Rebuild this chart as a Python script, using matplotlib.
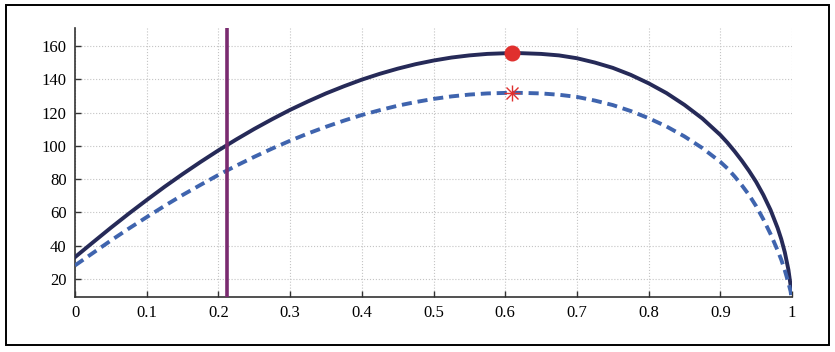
import matplotlib.pyplot as plt
import numpy as np
from matplotlib.patches import Rectangle

# values
x_pts = [0, 0.025, 0.05, 0.075, 0.1, 0.125, 0.15, 0.175, 0.2, 0.225, 0.25, 0.275,
         0.3, 0.325, 0.35, 0.375, 0.4, 0.425, 0.45, 0.475, 0.5, 0.525, 0.55, 0.575,
         0.6, 0.61, 0.625, 0.65, 0.675, 0.7, 0.725, 0.75, 0.775, 0.8, 0.825, 0.85,
         0.875, 0.9, 0.91, 0.92, 0.93, 0.94, 0.95, 0.96, 0.97, 0.98, 0.985, 0.99,
         0.995, 0.998, 0.999]
solid_y = [33, 41.9, 50.7, 59.2, 67.4, 75.4, 83.0, 90.3, 97.3, 103.9, 110.2, 116.1,
           121.7, 126.8, 131.6, 135.9, 139.9, 143.4, 146.5, 149.2, 151.4, 153.2, 154.5, 155.4,
           155.8, 156.0, 155.8, 155.4, 154.5, 152.8, 150.2, 147.0, 142.8, 137.7, 131.8, 124.7,
           116.5, 106.6, 101.9, 96.7, 91.1, 85.0, 78.3, 70.5, 61.5, 50.5, 43.9, 35.9,
           25.4, 16.1, 11.5]
dashed_y = [28, 35.5, 43.0, 50.2, 57.1, 63.9, 70.4, 76.5, 82.5, 88.1, 93.4, 98.4,
            103.1, 107.5, 111.5, 115.2, 118.6, 121.5, 124.2, 126.4, 128.3, 129.8, 130.9, 131.6,
            131.9, 132.0, 131.9, 131.6, 130.8, 129.5, 127.3, 124.6, 121.0, 116.7, 111.7, 105.7,
            98.7, 90.4, 86.4, 81.6, 76.3, 70.5, 63.7, 55.8, 47.0, 37.0, 31.5, 25.0,
            17.5, 12.5, 9.5]
vline_x = 0.212
peak_x = 0.61
peak_solid = 156
peak_dashed = 132
xticks = [0, 0.1, 0.2, 0.3, 0.4, 0.5, 0.6, 0.7, 0.8, 0.9, 1]
xlabels = ['0', '0.1', '0.2', '0.3', '0.4', '0.5', '0.6', '0.7', '0.8', '0.9', '1']
yticks = [20, 40, 60, 80, 100, 120, 140, 160]

plt.rcParams['font.family'] = ['Liberation Serif', 'DejaVu Serif']

fig = plt.figure(figsize=(8.35, 3.52), dpi=100)
ax = fig.add_axes([75/835, 55/352, 717/835, 269/352])

ax.grid(True, linestyle=':', color='#c4c4c4', linewidth=0.8)
ax.set_axisbelow(True)

ax.plot(x_pts, solid_y, color='#262a58', linewidth=2.8, solid_joinstyle='round', zorder=3)
ax.plot(x_pts, dashed_y, color='#3f64ae', linewidth=2.8, dashes=(2.6, 1.5), zorder=3)
ax.axvline(vline_x, color='#7a2b70', linewidth=2.6, zorder=4)

ax.plot(peak_x, peak_solid, 'o', color='#e0302e', markersize=10.5, zorder=5)
ax.plot(peak_x, peak_dashed, '+', color='#e0302e', markersize=11, markeredgewidth=1.0, zorder=5)
ax.plot(peak_x, peak_dashed, 'x', color='#e0302e', markersize=8, markeredgewidth=1.0, zorder=5)

ax.set_xlim(0, 1)
ax.set_ylim(9, 171)
ax.set_xticks(xticks)
ax.set_xticklabels(xlabels)
ax.set_yticks(yticks)
ax.tick_params(direction='in', length=4, width=1, labelsize=12, color='#333333', pad=6)
ax.spines['top'].set_visible(False)
ax.spines['right'].set_visible(False)
for s in ['left', 'bottom']:
    ax.spines[s].set_linewidth(1.2)
    ax.spines[s].set_color('#333333')

# frame around the whole figure
fig.patches.append(Rectangle((6/835, 7/352), 823/835, 340/352, transform=fig.transFigure,
                             fill=False, edgecolor='black', linewidth=1.4))

fig.savefig('out.png', dpi=100)
